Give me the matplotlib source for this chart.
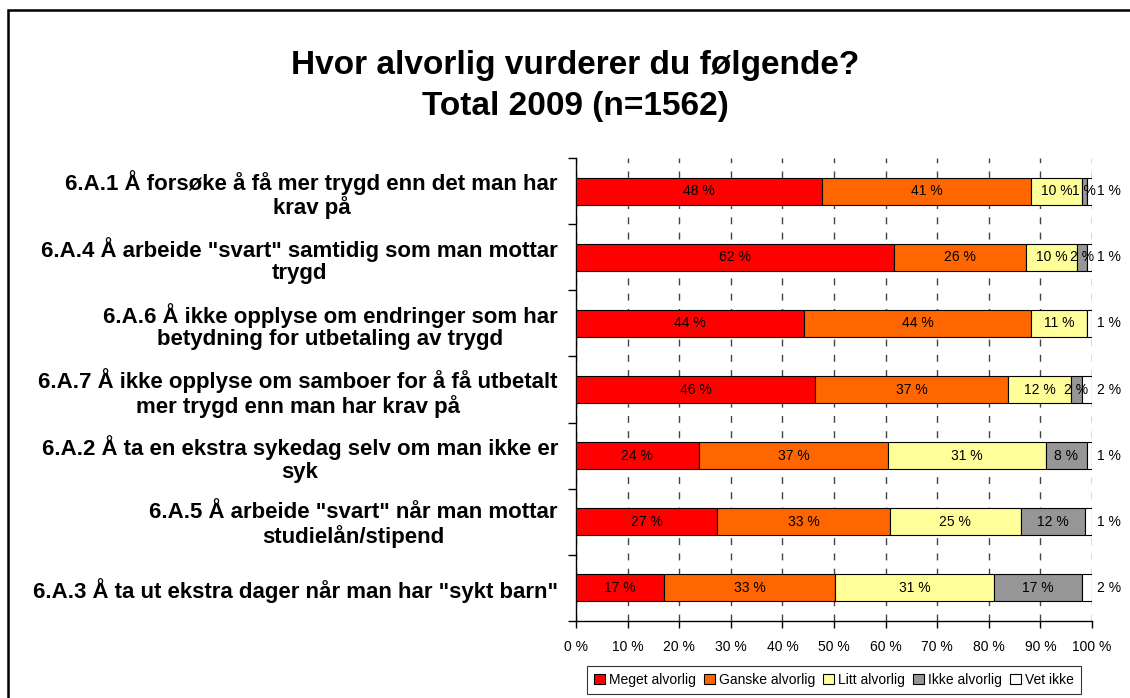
import matplotlib.pyplot as plt
import numpy as np
from matplotlib.patches import Rectangle

plt.rcParams['font.family'] = ['Liberation Sans', 'DejaVu Sans']

# Categories, top to bottom
categories = [
    '6.A.1 Å forsøke å få mer trygd enn det man har\nkrav på',
    '6.A.4 Å arbeide "svart" samtidig som man mottar\ntrygd',
    '6.A.6 Å ikke opplyse om endringer som har\nbetydning for utbetaling av trygd',
    '6.A.7 Å ikke opplyse om samboer for å få utbetalt\nmer trygd enn man har krav på',
    '6.A.2 Å ta en ekstra sykedag selv om man ikke er\nsyk',
    '6.A.5 Å arbeide "svart" når man mottar\nstudielån/stipend',
    '6.A.3 Å ta ut ekstra dager når man har "sykt barn"',
]

series = ['Meget alvorlig', 'Ganske alvorlig', 'Litt alvorlig', 'Ikke alvorlig', 'Vet ikke']
colors = ['#FF0000', '#FF6600', '#FFFF99', '#969696', '#FFFFFF']

meget = [47.6, 61.6, 44.2, 46.4, 23.8, 27.4, 17.1]
ganske = [40.6, 25.6, 44.0, 37.3, 36.7, 33.4, 33.1]
litt = [9.8, 9.9, 10.8, 12.2, 30.6, 25.4, 30.9]
ikke = [1.0, 2.0, 0.0, 2.1, 7.9, 12.4, 16.9]
vet_ikke = [1.0, 0.9, 1.0, 2.0, 1.0, 1.4, 2.0]

data = np.array([meget, ganske, litt, ikke, vet_ikke])

fig = plt.figure(figsize=(11.3, 6.98), dpi=100)
ax = fig.add_axes([0.5097, 0.1103, 0.4567, 0.6633])

# outer frame of the chart
fig.patches.append(Rectangle((0.0075, -0.05), 1.05, 1.035, transform=fig.transFigure,
                             fill=False, edgecolor='black', linewidth=1.8))

fig.text(0.509, 0.906, 'Hvor alvorlig vurderer du følgende?', ha='center', va='center',
         fontsize=24, fontweight='bold')
fig.text(0.509, 0.848, 'Total 2009 (n=1562)', ha='center', va='center',
         fontsize=24, fontweight='bold')

y = np.arange(len(categories))
left = np.zeros(len(categories))
n_series = len(series)
for k, (vals, name, col) in enumerate(zip(data, series, colors)):
    ax.barh(y, vals, left=left, height=0.41, color=col, edgecolor='black',
            linewidth=0.8, label=name, zorder=3)
    for yi, (l, v) in enumerate(zip(left, vals)):
        if v <= 0:
            continue
        # the small "Vet ikke" labels sit just right of the bar end
        x = 103.3 if k == n_series - 1 else l + v / 2
        ax.text(x, yi, '%.0f %%' % v, ha='center', va='center',
                fontsize=10, zorder=4, clip_on=False)
    left += vals

ax.set_xlim(0, 100)
ax.set_ylim(len(categories) - 0.5, -0.5)
ax.set_xticks(np.arange(0, 101, 10))
ax.set_xticklabels(['%d %%' % t for t in range(0, 101, 10)], fontsize=10)
ax.tick_params(axis='x', length=5, width=1, pad=9, direction='out')

ax.set_yticks(np.arange(-0.5, len(categories), 1))
ax.set_yticklabels([])
ax.set_yticks(y, minor=True)
ax.set_yticklabels(categories, minor=True, fontsize=16, fontweight='bold',
                   multialignment='center', linespacing=1.1)
ax.tick_params(axis='y', which='major', length=6, width=1, direction='out')
ax.tick_params(axis='y', which='minor', length=0, pad=13)

ax.xaxis.grid(True, color='#444444', linestyle=(0, (5, 6)), linewidth=1, zorder=0)
for s in ['top', 'right']:
    ax.spines[s].set_visible(False)
ax.spines['left'].set_linewidth(1)
ax.spines['bottom'].set_linewidth(1)

leg = ax.legend(loc='upper center', bbox_to_anchor=(0.5, -0.097), ncol=5,
                fontsize=10, frameon=True, fancybox=False, edgecolor='black',
                handlelength=0.8, handleheight=0.8, handletextpad=0.3,
                columnspacing=0.55, borderpad=0.5, borderaxespad=0)
leg.get_frame().set_linewidth(0.8)

plt.savefig('out.png', dpi=100)
